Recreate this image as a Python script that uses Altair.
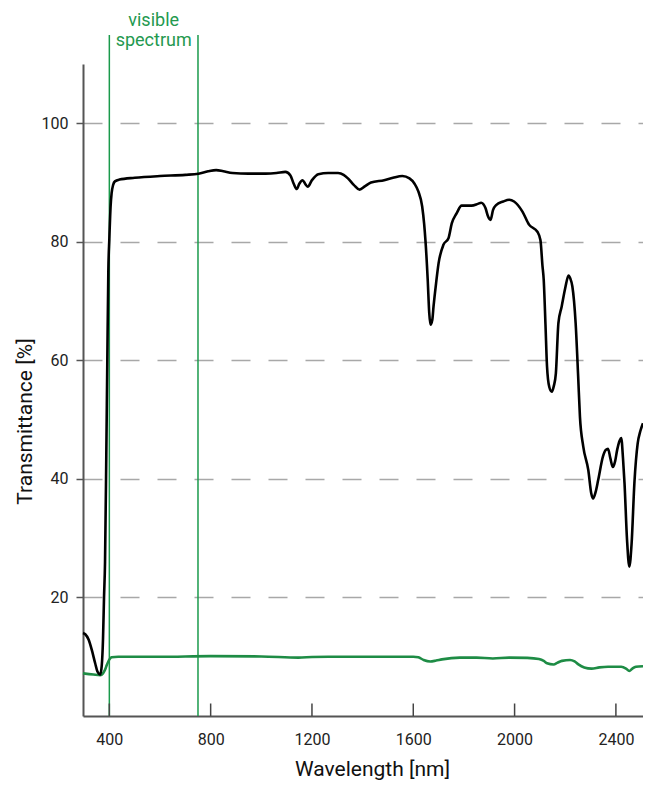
import altair as alt
import pandas as pd

# Black curve: transmittance of the sample
wl_black = [296, 305, 318, 331, 344, 353, 364, 370, 375, 379, 383, 388, 392, 396, 400, 405,
            409, 415, 422, 440, 500, 600, 700, 752, 790, 822, 850, 886, 950, 1017, 1060,
            1095, 1115, 1128, 1140, 1150, 1163, 1173, 1183, 1200, 1225, 1264, 1303, 1325,
            1342, 1365, 1388, 1410, 1433, 1485, 1520, 1557, 1585, 1605, 1620, 1635, 1643,
            1648, 1657, 1663, 1668, 1675, 1680, 1690, 1700, 1719, 1739, 1752, 1771, 1791,
            1830, 1855, 1868, 1885, 1895, 1905, 1915, 1927, 1955, 1979, 1998, 2031, 2057,
            2090, 2102, 2110, 2115, 2122, 2128, 2137, 2147, 2155, 2163, 2173, 2186, 2200,
            2213, 2220, 2228, 2241, 2251, 2258, 2271, 2291, 2303, 2310, 2320, 2330, 2349,
            2360, 2369, 2378, 2388, 2397, 2405, 2415, 2421, 2428, 2434, 2444, 2453, 2462,
            2473, 2486, 2496, 2507]
t_black = [14.0, 13.8, 12.9, 11.1, 8.9, 7.5, 7.0, 8.5, 13, 20, 26, 44, 60, 75, 80.5, 86,
           88.2, 89.6, 90.2, 90.5, 90.8, 91.1, 91.3, 91.5, 91.9, 92.1, 91.9, 91.6, 91.5, 91.5, 91.6,
           91.8, 91.2, 89.8, 88.9, 89.8, 90.4, 89.8, 89.3, 90.4, 91.4, 91.6, 91.6, 91.3,
           90.7, 89.6, 88.8, 89.4, 90.0, 90.4, 90.8, 91.1, 90.7, 89.8, 88.5, 86.0, 83,
           80.3, 73.6, 68, 66.0, 66.8, 69.1, 73, 76.4, 79.5, 80.6, 83.1, 84.8, 86.1,
           86.1, 86.4, 86.6, 85.7, 84.3, 83.7, 85.4, 86.2, 86.8, 87.1, 86.8, 85.1, 82.9,
           81.7, 80.3, 76, 73.6, 66, 59, 55.5, 54.7, 55.7, 57.8, 66.3, 69.1, 72.2,
           74.3, 73.8, 72.5, 66.3, 57.3, 50.5, 45.5, 41.5, 37.5, 36.7, 37.8, 39.8, 43.8,
           44.9, 45.1, 43.5, 42.0, 43.0, 44.9, 46.5, 46.9, 43.5, 39.3, 29.7, 25.2, 29.1,
           39.3, 46.0, 48.0, 49.4]

# Green curve
wl_green = [296, 337, 364, 375, 383, 390, 396, 403, 409, 435, 600, 800, 1000, 1147, 1200,
            1265, 1459, 1600, 1620, 1641, 1667, 1690, 1713, 1784, 1850, 1914, 1979, 2050,
            2096, 2115, 2128, 2154, 2170, 2187, 2219, 2237, 2252, 2275, 2304, 2335, 2369,
            2421, 2440, 2453, 2465, 2479, 2507]
t_green = [7.2, 7.0, 6.9, 7.2, 7.8, 8.6, 9.2, 9.7, 9.9, 10.0, 10.0, 10.1, 10.05, 9.85, 9.95,
           10.0, 10.0, 10.0, 9.9, 9.45, 9.2, 9.35, 9.55, 9.85, 9.85, 9.7, 9.85, 9.8,
           9.6, 9.3, 8.9, 8.7, 9.0, 9.3, 9.45, 9.2, 8.7, 8.2, 8.0, 8.2, 8.3,
           8.3, 8.0, 7.6, 8.0, 8.3, 8.4]

visible_bounds = [400, 750]
visible_label = ["visible", "spectrum"]
x_ticks = [400, 800, 1200, 1600, 2000, 2400]
y_ticks = [20, 40, 60, 80, 100]

W, H = 560, 652
FONT = "Roboto"

df_black = pd.DataFrame({"wl": wl_black, "t": t_black})
df_green = pd.DataFrame({"wl": wl_green, "t": t_green})
df_vis = pd.DataFrame({"wl": visible_bounds})
df_vis_text = pd.DataFrame({"wl": [sum(visible_bounds) / 2], "label": [visible_label]})
df_ticks = pd.DataFrame({"wl": x_ticks})

xscale = alt.Scale(domain=[296, 2507], nice=False, zero=False)
yscale = alt.Scale(domain=[0, 110], nice=False)

x_axis = alt.Axis(values=x_ticks, format="d", title="Wavelength [nm]", grid=False, ticks=False,
                  labelPadding=15, labelFontSize=16, labelFont=FONT, labelColor="#222",
                  domainColor="#555", domainWidth=2,
                  titleFont=FONT, titleFontSize=21, titleFontWeight="normal", titleColor="#111",
                  titleX=289, titleY=59, titleAlign="center", titleBaseline="alphabetic")
y_axis = alt.Axis(values=y_ticks, format="d", title="Transmittance [%]", grid=True,
                  gridDash=[19, 18], gridColor="#a8a8a8", gridWidth=1.5,
                  tickSize=7, tickColor="#555", tickWidth=1.5, labelPadding=8,
                  labelFontSize=16, labelFont=FONT, labelColor="#222",
                  domainColor="#555", domainWidth=2,
                  titleFont=FONT, titleFontSize=21, titleFontWeight="normal", titleColor="#111",
                  titleX=-52, titleY=357, titleAngle=270, titleAlign="center",
                  titleBaseline="alphabetic")

X = alt.X("wl:Q", scale=xscale, axis=x_axis)
Y = alt.Y("t:Q", scale=yscale, axis=y_axis)

black = alt.Chart(df_black).mark_line(color="#000", strokeWidth=2.6, interpolate="monotone").encode(
    x=X, y=Y)
green = alt.Chart(df_green).mark_line(color="#1e8c45", strokeWidth=2.6, interpolate="monotone").encode(
    x=X, y=Y)
vis_lines = alt.Chart(df_vis).mark_rule(color="#1a9a4b", strokeWidth=1.5).encode(
    x=X, y=alt.value(-29), y2=alt.value(H))
vis_text = alt.Chart(df_vis_text).mark_text(
    color="#23994f", font=FONT, fontSize=18, lineHeight=20, align="center",
    baseline="alphabetic").encode(x=X, y=alt.value(-38), text="label")
xticks = alt.Chart(df_ticks).mark_rule(color="#444", strokeWidth=1.5).encode(
    x=X, y=alt.value(H - 12.5), y2=alt.value(H))

chart = alt.layer(vis_lines, green, black, xticks, vis_text).properties(
    width=W, height=H,
    autosize=alt.AutoSizeParams(type="none"),
    padding={"left": 75, "top": 56, "right": 0, "bottom": 64},
    background="white",
).configure_view(stroke=None)

chart.save("out.html", embed_options={"renderer": "svg", "actions": False})
